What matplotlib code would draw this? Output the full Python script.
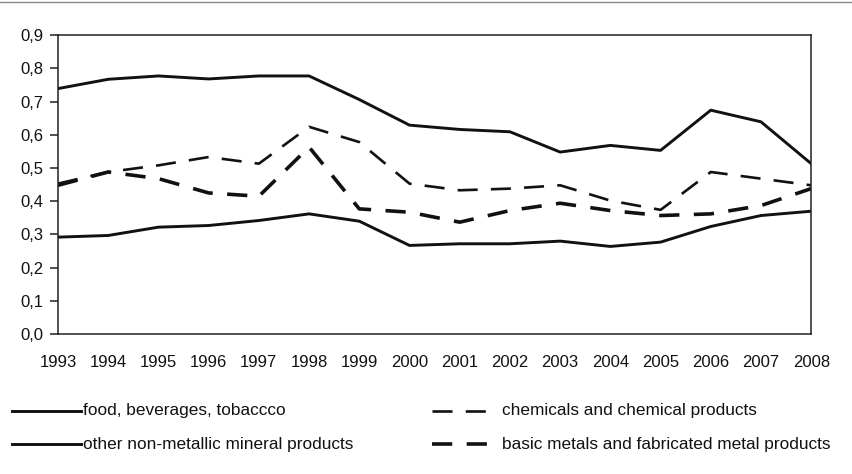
# share of sectors, 1993-2008
import matplotlib.pyplot as plt
from matplotlib.lines import Line2D

plt.rcParams['font.family'] = ['Liberation Sans', 'DejaVu Sans']

years = list(range(1993, 2009))

food = [0.292, 0.297, 0.322, 0.327, 0.342, 0.362, 0.340, 0.267,
        0.272, 0.272, 0.280, 0.264, 0.277, 0.324, 0.357, 0.370]
non_metallic = [0.739, 0.767, 0.777, 0.768, 0.777, 0.777, 0.706, 0.629,
                0.616, 0.609, 0.548, 0.568, 0.553, 0.674, 0.639, 0.513]
chemicals = [0.453, 0.488, 0.508, 0.533, 0.513, 0.624, 0.578, 0.453,
             0.433, 0.438, 0.448, 0.402, 0.374, 0.488, 0.468, 0.448]
basic_metals = [0.448, 0.488, 0.468, 0.425, 0.415, 0.563, 0.377, 0.367,
                0.337, 0.372, 0.394, 0.372, 0.357, 0.362, 0.387, 0.438]

labels = ['food, beverages, tobaccco',
          'other non-metallic mineral products',
          'chemicals and chemical products',
          'basic metals and fabricated metal products']

yticks = [i / 10 for i in range(10)]
ytick_labels = [f'{v:.1f}'.replace('.', ',') for v in yticks]

# line styles (dash patterns are in multiples of the line width)
solid_style = dict(lw=2.1)
chem_style = dict(lw=1.9, dashes=(7.6, 5.0), dash_capstyle='butt')
metal_style = dict(lw=2.6, dashes=(5.6, 4.0), dash_capstyle='butt')

fig = plt.figure(figsize=(8.53, 4.74), dpi=100)
ax = fig.add_axes([0.068, 0.295, 0.883, 0.631])

ax.plot(years, food, color='#111111', **solid_style)
ax.plot(years, non_metallic, color='#111111', **solid_style)
ax.plot(years, chemicals, color='#111111', **chem_style)
ax.plot(years, basic_metals, color='#111111', **metal_style)

ax.set_xlim(1993, 2008)
ax.set_ylim(0, 0.9)
ax.set_xticks(years)
ax.set_xticklabels([str(y) for y in years])
ax.set_yticks(yticks)
ax.set_yticklabels(ytick_labels)
ax.tick_params(labelsize=12, color='#222222', labelcolor='#111111')
ax.tick_params(axis='x', length=0, pad=15)
ax.tick_params(axis='y', length=5.5, width=1.1, pad=5)
for s in ax.spines.values():
    s.set_linewidth(1.1)
    s.set_color('#222222')

# legend drawn by hand to match the two-column layout
def legend_entry(x0, x1, y, text_x, text, style):
    fig.add_artist(Line2D([x0 / 853, x1 / 853], [1 - y / 474, 1 - y / 474],
                          color='#111111', transform=fig.transFigure, **style))
    fig.text(text_x / 853, 1 - y / 474, text, fontsize=12.4, va='center',
             ha='left', color='#111111')

legend_entry(12, 81, 411, 83, labels[0], solid_style)
legend_entry(12, 81, 444, 83, labels[1], solid_style)
legend_entry(432, 488, 411, 502, labels[2], chem_style)
legend_entry(432, 488, 444, 502, labels[3], metal_style)

# faint rule across the top of the page
fig.add_artist(Line2D([0, 1], [0.995, 0.995], color='#888888', lw=1.0,
                      transform=fig.transFigure))

fig.savefig('out.png', dpi=100)
